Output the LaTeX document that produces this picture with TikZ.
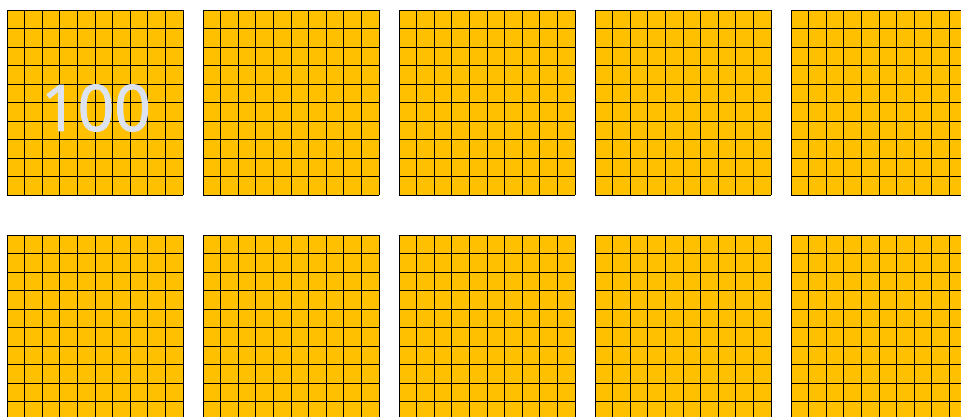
\documentclass[tikz,border=0pt]{standalone}
\usepackage{fontspec}
\newfontfamily\labelfont[FakeBold=1.6]{Open Sans}
\definecolor{gridgold}{HTML}{FFC000}
\definecolor{labelgray}{HTML}{DCE3EF}

\begin{document}
\begin{tikzpicture}[
		x=1pt, y=-1pt,
		cellfill/.style={fill=gridgold},
		cellline/.style={draw=black, line width=0.9pt},
		hundred/.style={text=labelgray, font=\labelfont\fontsize{64}{64}\selectfont, inner sep=0pt}
		]
		
		\useasboundingbox (0,0) rectangle (961,416);
		\clip (0,0) rectangle (961,416);
		
		% Ten hundred-squares in two rows
		\foreach \col in {0,...,4}{
			\foreach \row in {0,1}{
				\begin{scope}[shift={(7+196*\col,10+225*\row)}]
					\fill[cellfill] (0,0) rectangle (176,185);
					\foreach \k in {0,...,10}{
						\draw[cellline] (17.6*\k,0) -- (17.6*\k,185);
						\draw[cellline] (0,18.5*\k) -- (176,18.5*\k);
					}
				\end{scope}
			}
		}
		
		% Label on the first square
		\node[hundred] (hundred) at (96,108) {100};
		
	\end{tikzpicture}
\end{document}
